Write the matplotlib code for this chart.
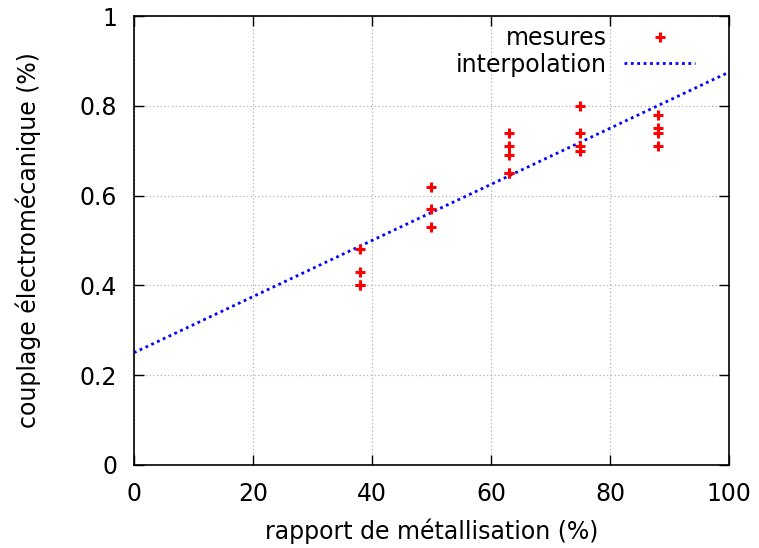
import matplotlib
matplotlib.use("Agg")
import matplotlib.pyplot as plt

# measured data
x_mes = [38, 38, 38, 38, 50, 50, 50, 63, 63, 63, 63, 63, 75, 75, 75, 75, 88, 88, 88, 88]
y_mes = [0.48, 0.43, 0.40, 0.40, 0.62, 0.57, 0.53, 0.74, 0.71, 0.69, 0.65, 0.65,
         0.80, 0.74, 0.71, 0.70, 0.78, 0.75, 0.74, 0.71]

# interpolation line endpoints
x_fit = [0, 100]
y_fit = [0.25, 0.875]

xticks = [0, 20, 40, 60, 80, 100]
yticks = [0, 0.2, 0.4, 0.6, 0.8, 1]
yticklabels = ["0", "0.2", "0.4", "0.6", "0.8", "1"]

plt.rcParams['font.family'] = ['DejaVu Sans']
FS = 17

fig = plt.figure(figsize=(7.59, 5.48), dpi=100)
ax = fig.add_axes([0.1765, 0.1515, 0.784, 0.8193])

ax.plot(x_mes, y_mes, linestyle='none', marker='+', color='red',
        markersize=7, markeredgewidth=2.2, label='mesures', zorder=3)
ax.plot(x_fit, y_fit, linestyle=(0, (1, 1.3)), color='blue', linewidth=2.0,
        label='interpolation', zorder=2)

ax.set_xlim(0, 100)
ax.set_ylim(0, 1)
ax.set_xticks(xticks)
ax.set_yticks(yticks)
ax.set_yticklabels(yticklabels)
ax.tick_params(direction='in', length=7, width=1, labelsize=FS, top=True, right=True)
ax.tick_params(axis='y', pad=12)
ax.tick_params(axis='x', pad=12)
ax.grid(True, color='#b0b0b0', linestyle=(0, (1, 2)), linewidth=0.9)
for s in ax.spines.values():
    s.set_linewidth(1.2)

ax.set_xlabel('rapport de métallisation (%)', fontsize=FS, labelpad=9)
ax.set_ylabel('couplage électromécanique (%)', fontsize=FS, labelpad=28)

leg = ax.legend(loc='upper right', frameon=False, markerfirst=False, fontsize=FS,
                handlelength=3.0, borderaxespad=0, borderpad=0, labelspacing=0.1,
                handletextpad=0.75, bbox_to_anchor=(0.943, 0.977))

fig.savefig('out.png', dpi=100)
